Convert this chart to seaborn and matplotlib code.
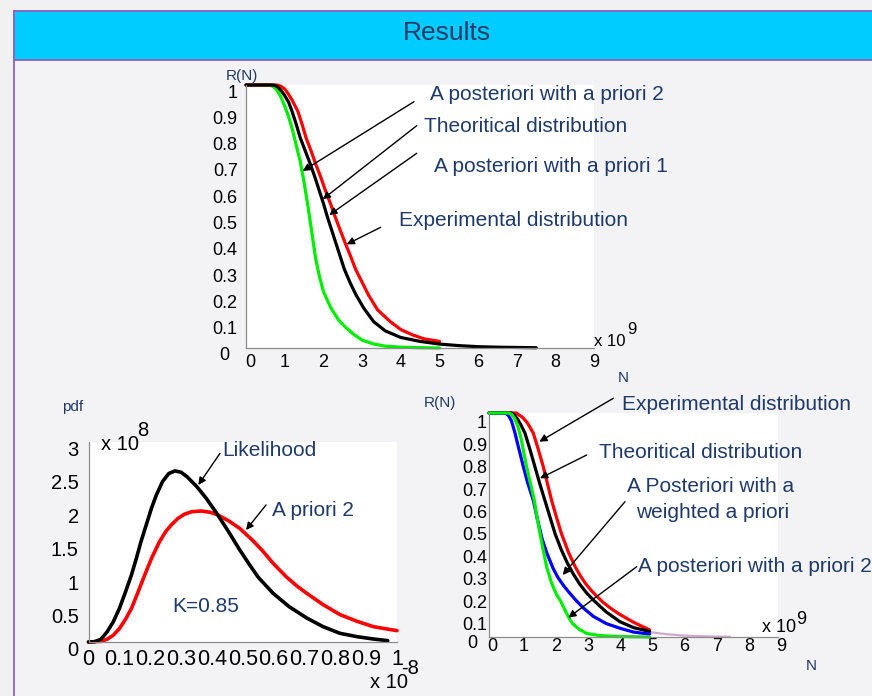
import matplotlib
matplotlib.use("Agg")
import matplotlib.pyplot as plt
import matplotlib.transforms as mtransforms
from matplotlib.patches import Rectangle, FancyArrowPatch
import pandas as pd
import seaborn as sns

# ---------------- data ----------------
# Top chart: R(N), N in units of 1e9
top_green_N = [0, 0.6, 0.7, 0.8, 0.9, 1.0, 1.1, 1.2, 1.3, 1.4, 1.5, 1.6, 1.7, 1.8, 1.9, 2.0, 2.2, 2.4, 2.6, 2.8, 3.0, 3.3, 3.6, 4.0, 4.5, 5.0]
top_green_R = [1, 1, 0.995, 0.98, 0.955, 0.92, 0.88, 0.83, 0.77, 0.71, 0.63, 0.54, 0.44, 0.34, 0.27, 0.215, 0.15, 0.105, 0.075, 0.05, 0.03, 0.015, 0.007, 0.003, 0.001, 0.0]
top_black_N = [0, 0.7, 0.8, 0.9, 1.0, 1.1, 1.19, 1.3, 1.4, 1.53, 1.66, 1.78, 1.89, 2.0, 2.1, 2.21, 2.32, 2.43, 2.54, 2.7, 2.85, 3.05, 3.3, 3.6, 4.0, 4.5, 5.0, 5.5, 6.0, 6.5, 7.0, 7.5]
top_black_R = [1, 1, 0.995, 0.98, 0.96, 0.935, 0.90, 0.85, 0.80, 0.75, 0.70, 0.65, 0.60, 0.55, 0.50, 0.45, 0.40, 0.35, 0.30, 0.245, 0.20, 0.15, 0.10, 0.065, 0.04, 0.025, 0.015, 0.009, 0.005, 0.003, 0.002, 0.001]
top_red_N = [0, 0.8, 0.9, 1.0, 1.1, 1.2, 1.34, 1.45, 1.55, 1.68, 1.8, 1.93, 2.05, 2.18, 2.3, 2.43, 2.56, 2.7, 2.83, 3.0, 3.17, 3.4, 3.73, 4.0, 4.3, 4.6, 5.0]
top_red_R = [1, 1, 0.995, 0.985, 0.965, 0.94, 0.90, 0.85, 0.80, 0.75, 0.70, 0.65, 0.60, 0.55, 0.50, 0.45, 0.40, 0.35, 0.30, 0.25, 0.20, 0.145, 0.10, 0.07, 0.05, 0.035, 0.025]

# Bottom-left chart: pdf (x in units of 1e-8, y in units of 1e8)
bl_like_x = [0, 0.02, 0.04, 0.06, 0.08, 0.10, 0.12, 0.139, 0.155, 0.17, 0.187, 0.204, 0.22, 0.24, 0.26, 0.28, 0.30, 0.32, 0.35, 0.38, 0.415, 0.45, 0.49, 0.52, 0.55, 0.598, 0.65, 0.707, 0.76, 0.815, 0.87, 0.923, 0.97]
bl_like_y = [0, 0.005, 0.04, 0.15, 0.3, 0.5, 0.75, 1.0, 1.25, 1.5, 1.75, 2.0, 2.2, 2.4, 2.52, 2.56, 2.54, 2.47, 2.33, 2.16, 1.93, 1.68, 1.38, 1.17, 0.97, 0.73, 0.53, 0.36, 0.23, 0.13, 0.08, 0.045, 0.02]
bl_prior_x = [0, 0.04, 0.06, 0.08, 0.10, 0.12, 0.139, 0.16, 0.182, 0.205, 0.23, 0.25, 0.27, 0.29, 0.31, 0.335, 0.366, 0.395, 0.42, 0.455, 0.49, 0.53, 0.565, 0.598, 0.64, 0.675, 0.707, 0.76, 0.815, 0.87, 0.923, 0.96, 1.0]
bl_prior_y = [0, 0.01, 0.04, 0.1, 0.2, 0.34, 0.5, 0.74, 1.0, 1.26, 1.5, 1.65, 1.76, 1.85, 1.91, 1.95, 1.96, 1.94, 1.9, 1.81, 1.70, 1.53, 1.36, 1.18, 0.98, 0.84, 0.73, 0.56, 0.41, 0.31, 0.23, 0.2, 0.17]

# Bottom-right chart: R(N), N in units of 1e9
br_red_N = [0, 0.85, 0.95, 1.05, 1.2, 1.38, 1.53, 1.69, 1.82, 1.95, 2.1, 2.26, 2.47, 2.68, 2.85, 3.0, 3.17, 3.35, 3.55, 3.8, 4.05, 4.29, 4.5, 4.7, 5.0]
br_red_R = [1, 1, 0.99, 0.98, 0.955, 0.91, 0.84, 0.76, 0.685, 0.61, 0.535, 0.46, 0.38, 0.315, 0.272, 0.24, 0.21, 0.183, 0.155, 0.127, 0.103, 0.083, 0.066, 0.052, 0.032]
br_black_N = [0, 0.7, 0.8, 0.9, 1.0, 1.12, 1.27, 1.43, 1.58, 1.74, 1.9, 2.06, 2.25, 2.44, 2.63, 2.83, 3.05, 3.25, 3.45, 3.65, 4.08, 4.5, 5.0]
br_black_R = [1, 1, 0.99, 0.97, 0.945, 0.91, 0.84, 0.76, 0.685, 0.61, 0.535, 0.46, 0.39, 0.33, 0.28, 0.235, 0.195, 0.165, 0.138, 0.112, 0.068, 0.042, 0.025]
br_blue_N = [0, 0.5, 0.6, 0.7, 0.81, 0.93, 1.07, 1.2, 1.38, 1.5, 1.65, 1.8, 2.0, 2.15, 2.32, 2.5, 2.7, 2.95, 3.25, 3.65, 4.08, 4.5, 5.0]
br_blue_R = [1, 1, 0.99, 0.965, 0.91, 0.84, 0.76, 0.69, 0.61, 0.53, 0.44, 0.375, 0.305, 0.265, 0.23, 0.198, 0.165, 0.128, 0.092, 0.06, 0.039, 0.022, 0.013]
br_green_N = [0, 0.6, 0.7, 0.8, 0.9, 1.0, 1.1, 1.2, 1.3, 1.41, 1.5, 1.59, 1.7, 1.8, 1.95, 2.1, 2.21, 2.35, 2.47, 2.6, 2.8, 3.04, 3.4, 4.0, 5.0]
br_green_R = [1, 1, 0.995, 0.975, 0.94, 0.885, 0.81, 0.74, 0.68, 0.61, 0.53, 0.46, 0.38, 0.31, 0.24, 0.19, 0.165, 0.125, 0.09, 0.06, 0.035, 0.016, 0.007, 0.002, 0.0]
br_tail_N = [5.0, 5.5, 6.0, 6.5, 7.0, 7.5]
br_tail_R = [0.022, 0.013, 0.007, 0.004, 0.002, 0.001]

# tick labels
r_ticks = [0, 0.1, 0.2, 0.3, 0.4, 0.5, 0.6, 0.7, 0.8, 0.9, 1.0]
r_tick_labels = ["0", "0.1", "0.2", "0.3", "0.4", "0.5", "0.6", "0.7", "0.8", "0.9", "1"]
n_ticks = [0, 1, 2, 3, 4, 5, 6, 7, 8, 9]
n_tick_labels = ["0", "1", "2", "3", "4", "5", "6", "7", "8", "9"]
pdf_x_ticks = [0, 0.1, 0.2, 0.3, 0.4, 0.5, 0.6, 0.7, 0.8, 0.9, 1.0]
pdf_x_labels = ["0", "0.1", "0.2", "0.3", "0.4", "0.5", "0.6", "0.7", "0.8", "0.9", "1"]
pdf_y_ticks = [0, 0.5, 1.0, 1.5, 2.0, 2.5, 3.0]
pdf_y_labels = ["0", "0.5", "1", "1.5", "2", "2.5", "3"]

# ---------------- styling ----------------
sns.set_style("white")
plt.rcParams['font.family'] = ['Liberation Sans', 'DejaVu Sans']

W, H = 872, 696
NAVY = '#1f3a68'
GREEN, RED, BLUE, BLACK = '#00ee00', '#ff0000', '#0000ff', '#000000'

fig = plt.figure(figsize=(W / 100, H / 100), dpi=100, facecolor='#f1f1f1')


def frac(x, y):
    return (x / W, 1 - y / H)


def rect(l, t, r, b):
    return [l / W, 1 - b / H, (r - l) / W, (b - t) / H]


# slide panel and title bar
fig.add_artist(Rectangle(frac(14, 700), 1.0, (700 - 10.5) / H, transform=fig.transFigure,
                         facecolor='#f3f3f5', edgecolor='#8b62c0', lw=1.3, zorder=-10))
fig.add_artist(Rectangle(frac(14, 59.5), 1.0, 49 / H, transform=fig.transFigure,
                         facecolor='#00ccff', edgecolor='#8b62c0', lw=1.3, zorder=-9))
fig.text(*frac(447, 33), 'Results', ha='center', va='center', fontsize=19, color=NAVY)


def draw(ax, xs, ys, color, lw):
    df = pd.DataFrame({'x': xs, 'y': ys})
    sns.lineplot(data=df, x='x', y='y', ax=ax, color=color, lw=lw, estimator=None, sort=False)


def shift(lab, dx, dy):
    lab.set_transform(lab.get_transform() +
                      mtransforms.ScaledTranslation(dx / 100, -dy / 100, fig.dpi_scale_trans))


def style(ax, xlim, ylim, xt, xl, yt, yl, fs, ypad, xpad, ydy, xdx=0,
          zero_dy=None, zero_dx=0, xzero_dx=0, xfs=None):
    ax.set_facecolor('white')
    ax.set_xlim(*xlim)
    ax.set_ylim(*ylim)
    ax.set_xticks(xt)
    ax.set_xticklabels(xl)
    ax.set_yticks(yt)
    ax.set_yticklabels(yl)
    ax.set_xlabel('')
    ax.set_ylabel('')
    for s in ['top', 'right']:
        ax.spines[s].set_visible(False)
    for s in ['left', 'bottom']:
        ax.spines[s].set_color('#8c8c8c')
        ax.spines[s].set_linewidth(0.9)
    ax.tick_params(axis='both', direction='in', length=3, width=0.8, color='#8c8c8c',
                   labelsize=fs, labelcolor='black')
    ax.tick_params(axis='y', pad=ypad)
    ax.tick_params(axis='x', pad=xpad, labelsize=xfs or fs)
    for line in ax.lines:
        line.set_clip_on(False)
        line.set_solid_joinstyle('round')
    for i, lab in enumerate(ax.get_yticklabels()):
        if i == 0:
            shift(lab, zero_dx, ydy if zero_dy is None else zero_dy)
        else:
            shift(lab, 0, ydy)
    for i, lab in enumerate(ax.get_xticklabels()):
        shift(lab, xdx + (xzero_dx if i == 0 else 0), 0)


def label(x, y, s, fs, ha='left', color=NAVY):
    fig.text(*frac(x, y), s, ha=ha, va='center', fontsize=fs, color=color)


def arrow(x0, y0, x1, y1):
    fig.add_artist(FancyArrowPatch(frac(x0, y0), frac(x1, y1), transform=fig.transFigure,
                                   arrowstyle='-|>', mutation_scale=11, color='black',
                                   lw=1.0, shrinkA=0, shrinkB=0, zorder=5))


# ---------------- top chart ----------------
ax_top = fig.add_axes(rect(246, 85, 594.3, 348))
draw(ax_top, top_green_N, top_green_R, GREEN, 2.3)
draw(ax_top, top_red_N, top_red_R, RED, 2.3)
draw(ax_top, top_black_N, top_black_R, BLACK, 2.3)
style(ax_top, (0, 9), (0, 1), n_ticks, n_tick_labels, r_ticks, r_tick_labels,
      13, 6, 4, 6, zero_dx=-8, xzero_dx=4)
label(226, 76, 'R(N)', 11)
label(594, 342, 'x 10', 12, color='black')
label(627, 330, '9', 12, color='black')
label(618, 378, 'N', 11)

label(430, 95, 'A posteriori with a priori 2', 15)
label(424, 127, 'Theoritical distribution', 15)
label(434, 167, 'A posteriori with a priori 1', 15)
label(399, 221, 'Experimental distribution', 15)
arrow(414, 101.7, 302.7, 171)
arrow(416.7, 125.7, 322.7, 199.3)
arrow(416.7, 153.3, 329.3, 215)
arrow(380.7, 227.3, 346.7, 244.3)

# ---------------- bottom-left chart ----------------
ax_bl = fig.add_axes(rect(88.5, 441.5, 397, 642))
draw(ax_bl, bl_prior_x, bl_prior_y, RED, 2.6)
draw(ax_bl, bl_like_x, bl_like_y, BLACK, 2.6)
style(ax_bl, (0, 1), (0, 3), pdf_x_ticks, pdf_x_labels, pdf_y_ticks, pdf_y_labels,
      14.5, 7, 5, 7, xfs=15.5)
label(62.5, 407, 'pdf', 11)
label(101, 445, 'x 10', 14.5, color='black')
label(137, 431, '8', 14.5, color='black')
label(370, 683, 'x 10', 14.5, color='black')
label(401, 668, '-8', 14.5, color='black')

label(222, 451, 'Likelihood', 15)
label(272, 511, 'A priori 2', 15)
label(172, 606, 'K=0.85', 15)
arrow(220, 453.3, 198.3, 485)
arrow(266, 505, 246, 530)

# ---------------- bottom-right chart ----------------
ax_br = fig.add_axes(rect(489, 413, 778, 637))
draw(ax_br, br_tail_N, br_tail_R, '#cfa8d0', 1.6)
draw(ax_br, br_red_N, br_red_R, RED, 2.3)
draw(ax_br, br_black_N, br_black_R, BLACK, 2.3)
draw(ax_br, br_blue_N, br_blue_R, BLUE, 2.3)
draw(ax_br, br_green_N, br_green_R, GREEN, 2.3)
style(ax_br, (0, 9), (0, 1), n_ticks, n_tick_labels, r_ticks, r_tick_labels,
      13, 1.5, 1, 9, xdx=3, zero_dy=4, zero_dx=-10)
label(424, 403, 'R(N)', 11)
label(762, 628, 'x 10', 13, color='black')
label(796, 620, '9', 13, color='black')
label(806, 666, 'N', 11)

label(622, 405, 'Experimental distribution', 15)
label(599, 453, 'Theoritical distribution', 15)
label(711, 487, 'A Posteriori with a', 15, ha='center')
label(713, 513, 'weighted a priori', 15, ha='center')
label(638, 566, 'A posteriori with a priori 2', 15)
arrow(613.3, 398.3, 539.3, 441.7)
arrow(586.7, 455, 540, 478.3)
arrow(625, 501.7, 562.7, 575)
arrow(636.7, 566.7, 568.3, 617.7)

fig.savefig('out.png', dpi=100, facecolor=fig.get_facecolor())
